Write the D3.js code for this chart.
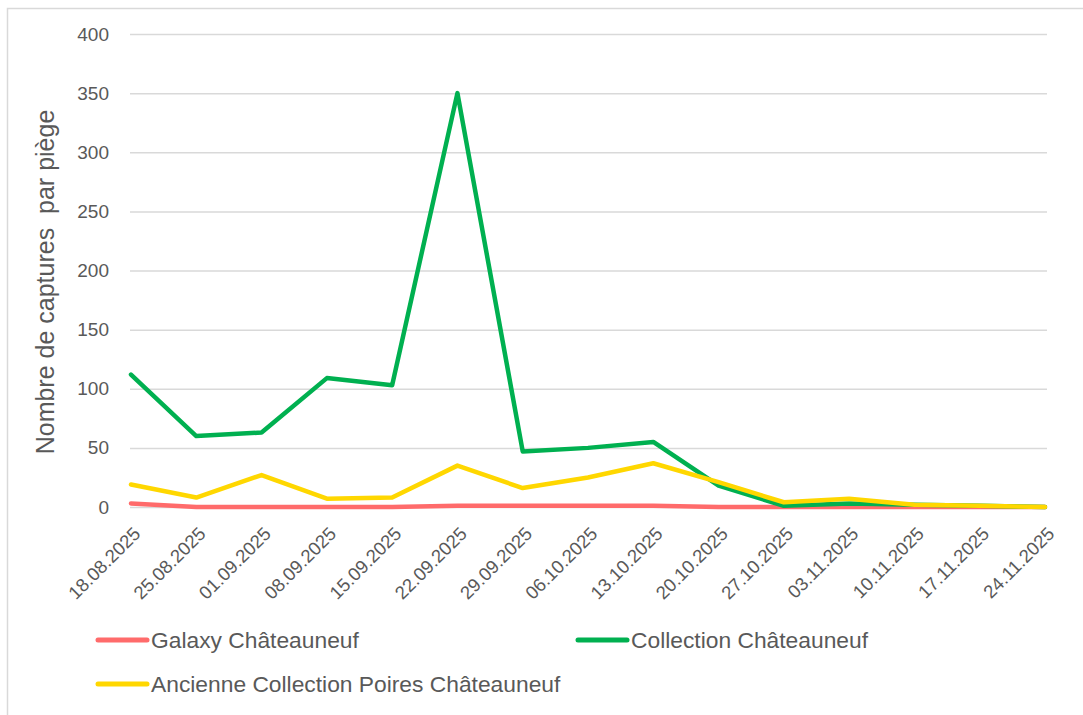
<!DOCTYPE html>
<html><head><meta charset="utf-8">
<script src="https://cdn.jsdelivr.net/npm/d3@7"></script>
<style>body{margin:0;background:#fff}svg{display:block}</style>
</head><body>
<script>
const dates = ["18.08.2025","25.08.2025","01.09.2025","08.09.2025","15.09.2025","22.09.2025","29.09.2025","06.10.2025","13.10.2025","20.10.2025","27.10.2025","03.11.2025","10.11.2025","17.11.2025","24.11.2025"];
const galaxy = [3,0,0,0,0,1,1,1,1,0,0,0,0,0,0];
const collection = [112,60,63,109,103,350,47,50,55,18,1,3,2,1,0];
const ancienne = [19,8,27,7,8,35,16,25,37,21,4,7,2,1,0];
const yTicks = [0,50,100,150,200,250,300,350,400];
const seriesNames = ["Galaxy Châteauneuf","Collection Châteauneuf","Ancienne Collection Poires Châteauneuf"];
const colors = ["#FF6B6B","#00B050","#FFD700"];

const W=1083,H=715;
const svg=d3.select("body").append("svg").attr("width",W).attr("height",H);
svg.append("rect").attr("x",7.5).attr("y",8.5).attr("width",W+10).attr("height",H+10).attr("fill","#fff").attr("stroke","#d9d9d9").attr("stroke-width",1.5);

const x=d3.scalePoint().domain(dates).range([131,1045]);
const y=d3.scaleLinear().domain([0,400]).range([507,34]);
const font="Liberation Sans, Arial, sans-serif";

const gy=svg.append("g").attr("transform","translate(130,0)")
  .call(d3.axisLeft(y).tickValues(yTicks).tickSize(-917).tickPadding(21));
gy.select(".domain").remove();
gy.selectAll(".tick line").attr("stroke","#d9d9d9").attr("stroke-width",1.5);
gy.selectAll(".tick text").attr("fill","#595959").attr("font-size","19px").attr("font-family",font);

const gx=svg.append("g").attr("transform","translate(0,507)")
  .call(d3.axisBottom(x).tickSize(0).tickPadding(0));
gx.select(".domain").remove();
gx.selectAll(".tick text").attr("fill","#595959").attr("font-size","18.5px").attr("font-family",font)
  .attr("text-anchor","end").attr("dy","0").attr("transform","translate(10,28) rotate(-45)");

svg.append("text").attr("transform","translate(54,282) rotate(-90)").attr("text-anchor","middle")
  .attr("fill","#595959").attr("font-size","25px").attr("font-family",font).attr("xml:space","preserve")
  .text("Nombre de captures  par piège");

const line=d3.line().x((d,i)=>x(dates[i])).y(d=>y(d));
const data=[galaxy,collection,ancienne];
[0,1,2].forEach(k=>{
  svg.append("path").datum(data[k]).attr("d",line).attr("fill","none").attr("stroke",colors[k])
    .attr("stroke-width",4.5).attr("stroke-linejoin","round").attr("stroke-linecap","round");
});

const leg=[{x:98,y:640},{x:578,y:640},{x:98,y:684}];
leg.forEach((p,k)=>{
  svg.append("line").attr("x1",p.x).attr("x2",p.x+49).attr("y1",p.y).attr("y2",p.y)
    .attr("stroke",colors[k]).attr("stroke-width",5).attr("stroke-linecap","round");
  svg.append("text").attr("x",p.x+53).attr("y",p.y+8).attr("fill","#595959")
    .attr("font-size","22.8px").attr("font-family",font).text(seriesNames[k]);
});
</script>
</body></html>
